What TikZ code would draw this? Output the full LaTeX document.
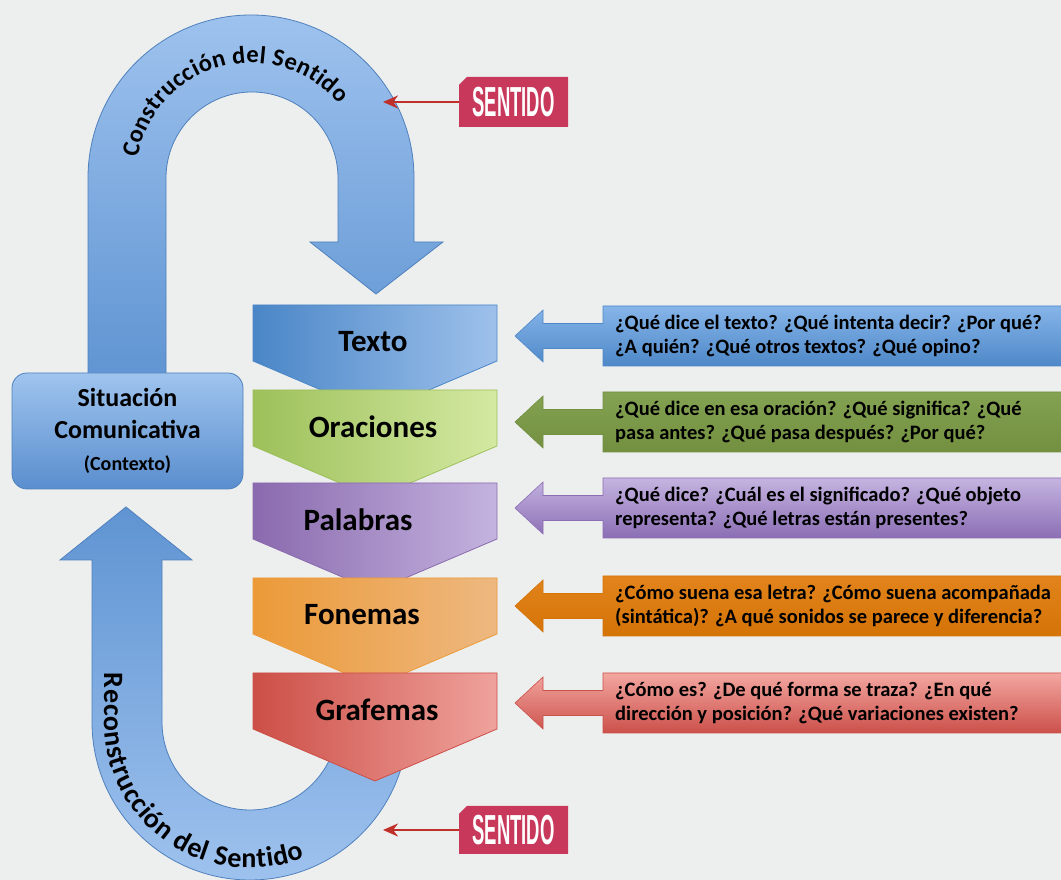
\documentclass[tikz,border=0pt]{standalone}
\usepackage{fontspec}
\setmainfont{Carlito}
\newfontfamily\tagfont[FakeStretch=0.44]{Liberation Sans}
\usetikzlibrary{decorations.text,arrows.meta}

\definecolor{bgcol}{HTML}{EDEEEE}
\definecolor{ulight}{HTML}{9EC2EE}
\definecolor{udark}{HTML}{5F94D2}
\definecolor{edgeblue}{HTML}{4F81BD}
\definecolor{sitlight}{HTML}{9FC4EE}
\definecolor{sitdark}{HTML}{5A8ECE}
\definecolor{tagred}{HTML}{C8385A}
\definecolor{pinred}{HTML}{C0302B}
% levels, left and right
\definecolor{txtL}{HTML}{4A86C7}
\definecolor{txtR}{HTML}{9EC1EB}
\definecolor{oraL}{HTML}{9DC05A}
\definecolor{oraR}{HTML}{D4E9A2}
\definecolor{palL}{HTML}{8A6AAE}
\definecolor{palR}{HTML}{C4B3DF}
\definecolor{fonL}{HTML}{EC9A38}
\definecolor{fonR}{HTML}{EDB880}
\definecolor{graL}{HTML}{CC4F47}
\definecolor{graR}{HTML}{EFA29C}
% questions, top and bottom
\definecolor{qbT}{HTML}{86B5E9}
\definecolor{qbB}{HTML}{4E88C8}
\definecolor{qgT}{HTML}{83A252}
\definecolor{qgB}{HTML}{72903F}
\definecolor{qpT}{HTML}{C5B4E1}
\definecolor{qpB}{HTML}{8B6EB4}
\definecolor{qoT}{HTML}{E2841C}
\definecolor{qoB}{HTML}{D47306}
\definecolor{qrT}{HTML}{F3A7A1}
\definecolor{qrB}{HTML}{CC504A}

\newcommand\arcfont{\fontsize{24.5}{25}\selectfont\bfseries}
\newcommand\lowarcfont{\fontsize{28}{28}\selectfont\bfseries}

\tikzset{
  uarrow/.style={draw=edgeblue, line width=0.8pt},
  levelbox/.style={line width=0.8pt},
  levelname/.style={font=\fontsize{31}{34}\selectfont\bfseries, inner sep=0pt},
  askbox/.style={line width=0.6pt},
  asktext/.style={anchor=west, align=left, inner sep=0pt,
    font=\fontsize{20.5}{24}\selectfont\bfseries},
  sitbox/.style={draw=edgeblue, line width=0.8pt, rounded corners=15pt,
    top color=sitlight, bottom color=sitdark, minimum width=231pt,
    minimum height=116pt, align=center, font=\fontsize{26}{32}\selectfont\bfseries},
  tagbox/.style={minimum width=109pt, minimum height=50pt, inner sep=0pt,
    text=white, font=\tagfont\bfseries\fontsize{42}{42}\selectfont},
  pin/.style={draw=pinred, line width=2.5pt, -{Stealth[length=15pt,width=13pt]}},
}

\begin{document}
\begin{tikzpicture}[x=1pt,y=1pt]
  \useasboundingbox (0,0) rectangle (1061,880);
  \clip (0,0) rectangle (1061,880);
  \fill[bgcol] (0,0) rectangle (1061,880);

  % upper U arrow
  \draw[uarrow, top color=ulight, bottom color=udark]
    (166,500) -- (88,500) -- (88,702) arc[start angle=180, end angle=0, radius=163]
    -- (414,638) -- (443,638) -- (376,586) -- (310,638) -- (338,638) -- (338,702)
    arc[start angle=0, end angle=180, radius=86] -- cycle;
  \path[decorate, decoration={text along path, text align=fit to path,
      text={|\arcfont|Construcción del Sentido}}]
    ([shift={(170:115)}]251,702) arc[start angle=170, end angle=40, radius=115];

  % lower U arrow
  \draw[uarrow, top color=udark, bottom color=ulight]
    (126,373) -- (60,320) -- (92,320) -- (92,158) arc[start angle=180, end angle=360, radius=158]
    -- (338,158) arc[start angle=0, end angle=-180, radius=88] -- (162,320) -- (192,320) -- cycle;
  \path[decorate, decoration={text along path, text align=fit to path,
      text={|\lowarcfont|Reconstrucción del Sentido}}]
    (104,207) -- (104,158) arc[start angle=180, end angle=292, radius=146];

  % context
  \node[sitbox] (sit) at (127.5,449)
    {Situación\\Comunicativa\\{\fontsize{20}{27}\selectfont(Contexto)}};

  % levels
  \foreach \t/\lab/\lc/\rc/\lx/\nm in {305/Texto/txtL/txtR/373/texto,
      390/Oraciones/oraL/oraR/373/oraciones, 483/Palabras/palL/palR/358/palabras,
      578/Fonemas/fonL/fonR/362/fonemas, 673/Grafemas/graL/graR/377/grafemas}
  {
    \begin{scope}[shift={(0,880-\t)}]
      \draw[levelbox, left color=\lc, right color=\rc, draw=\lc]
        (253,0) -- (497,0) -- (497,-56) -- (375,-108) -- (253,-56) -- cycle;
      \node[levelname] (\nm) at (\lx,-37) {\lab};
    \end{scope}
  }

  % questions
  \foreach \c/\tc/\bc/\nm/\qa/\qb in {
      336/qbT/qbB/askTexto/{¿Qué dice el texto? ¿Qué intenta decir? ¿Por qué?}/{¿A quién? ¿Qué otros textos? ¿Qué opino?},
      422/qgT/qgB/askOraciones/{¿Qué dice en esa oración? ¿Qué significa? ¿Qué}/{pasa antes? ¿Qué pasa después? ¿Por qué?},
      508/qpT/qpB/askPalabras/{¿Qué dice? ¿Cuál es el significado? ¿Qué objeto}/{representa? ¿Qué letras están presentes?},
      606/qoT/qoB/askFonemas/{¿Cómo suena esa letra? ¿Cómo suena acompañada}/{(sintática)? ¿A qué sonidos se parece y diferencia?},
      703/qrT/qrB/askGrafemas/{¿Cómo es? ¿De qué forma se traza? ¿En qué}/{dirección y posición? ¿Qué variaciones existen?}}
  {
    \begin{scope}[shift={(0,880-\c)}]
      \draw[askbox, top color=\tc, bottom color=\bc, draw=\bc]
        (515,0) -- (543,26) -- (543,12.5) -- (603,12.5) -- (603,30) -- (1066,30)
        -- (1066,-30) -- (603,-30) -- (603,-12.5) -- (543,-12.5) -- (543,-26) -- cycle;
      \node[asktext] (\nm) at (615,0) {\qa\\\qb};
    \end{scope}
  }

  % sentido tags
  \fill[tagred] (459,753) -- (459,795) -- (467,803) -- (568,803) -- (568,753) -- cycle;
  \node[tagbox] (tagUp) at (513.5,778) {SENTIDO};
  \coordinate (pinUp) at (383,778);
  \draw[pin] (tagUp.west) -- (pinUp);

  \fill[tagred] (459,26) -- (459,66) -- (467,74) -- (568,74) -- (568,26) -- cycle;
  \node[tagbox] (tagDown) at (513.5,50) {SENTIDO};
  \coordinate (pinDown) at (383,50);
  \draw[pin] (tagDown.west) -- (pinDown);
\end{tikzpicture}
\end{document}
